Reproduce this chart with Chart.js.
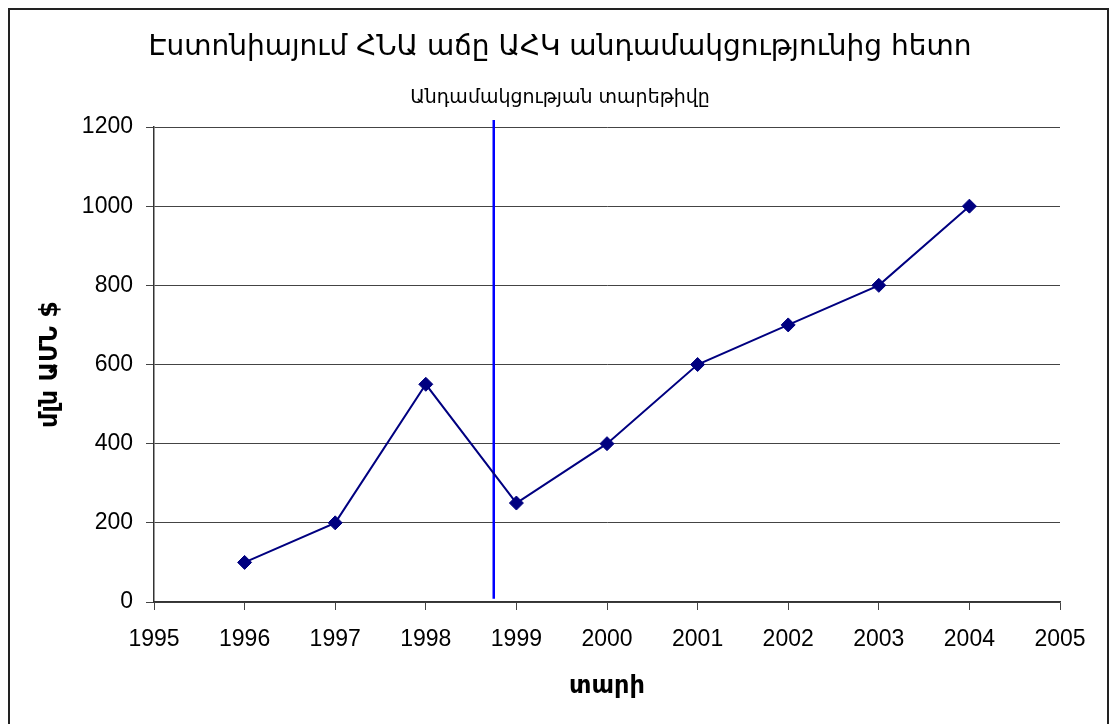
<!DOCTYPE html>
<html>
<head>
<meta charset="utf-8">
<script src="https://cdn.jsdelivr.net/npm/chart.js@4/dist/chart.umd.min.js"></script>
<style>
  html, body { margin: 0; padding: 0; background: #fff; }
  #wrap { width: 1110px; height: 724px; position: relative; }
</style>
</head>
<body>
<div id="wrap"><canvas id="c" width="1110" height="724"></canvas></div>
<script>
// ---- data ----
const years = [1996, 1997, 1998, 1999, 2000, 2001, 2002, 2003, 2004];
const gdpValues = [100, 200, 550, 250, 400, 600, 700, 800, 1000];
const membershipYear = 1998.75;
const membershipLineY = [8, 1218];
const chartTitle = 'Էստոնիայում ՀՆԱ աճը ԱՀԿ անդամակցությունից հետո';
const annotationText = 'Անդամակցության տարեթիվը';
const xAxisTitle = 'տարի';
const yAxisTitle = 'մլն ԱՄՆ $';

const gdpPoints = years.map((y, i) => ({ x: y, y: gdpValues[i] }));
const linePoints = membershipLineY.map(v => ({ x: membershipYear, y: v }));

const armFont = "'DejaVu Sans', 'Noto Sans', sans-serif";
const numFont = "'Liberation Sans', Arial, sans-serif";

const decorPlugin = {
  id: 'decor',
  afterDraw(chart) {
    const ctx = chart.ctx;
    ctx.save();
    ctx.strokeStyle = '#222';
    ctx.lineWidth = 2;
    ctx.strokeRect(9, 9, 1099, 730);
    ctx.fillStyle = '#000';
    ctx.textAlign = 'center';
    ctx.textBaseline = 'middle';
    ctx.font = '28px ' + armFont;
    ctx.fillText(chartTitle, 560, 48);
    ctx.font = '19px ' + armFont;
    ctx.fillText(annotationText, 560, 98);
    ctx.restore();
  }
};

new Chart(document.getElementById('c'), {
  type: 'scatter',
  data: {
    datasets: [
      {
        label: 'ՀՆԱ',
        data: gdpPoints,
        showLine: true,
        borderColor: '#000080',
        backgroundColor: '#000080',
        borderWidth: 2,
        pointStyle: 'rectRot',
        pointRadius: 7,
        pointBorderWidth: 1,
        pointBorderColor: '#000080',
        pointBackgroundColor: '#000080',
        order: 1
      },
      {
        label: annotationText,
        data: linePoints,
        showLine: true,
        borderColor: '#0000FF',
        borderWidth: 2.5,
        pointRadius: 0,
        clip: false,
        order: 2
      }
    ]
  },
  options: {
    responsive: false,
    animation: false,
    events: [],
    layout: { padding: { left: 0, right: 50, top: 127, bottom: 0 } },
    plugins: {
      legend: { display: false },
      tooltip: { enabled: false },
      title: { display: false },
      subtitle: { display: false }
    },
    scales: {
      x: {
        type: 'linear',
        min: 1995,
        max: 2005,
        afterFit(scale) { scale.height = 122; },
        ticks: {
          stepSize: 1,
          color: '#000',
          padding: 16,
          font: { family: numFont, size: 23 },
          callback: v => String(v),
          maxRotation: 0
        },
        grid: {
          drawOnChartArea: false,
          drawTicks: true,
          tickLength: 8,
          tickColor: '#444',
          color: '#444'
        },
        border: { display: true, color: '#333', width: 1.5 },
        title: {
          display: true,
          text: xAxisTitle,
          color: '#000',
          font: { family: armFont, size: 24, weight: 'bold', lineHeight: 1.2 },
          padding: { top: 0, bottom: 23 }
        }
      },
      y: {
        min: 0,
        max: 1200,
        afterFit(scale) { scale.width = 154; },
        ticks: {
          stepSize: 200,
          color: '#000',
          padding: 13,
          font: { family: numFont, size: 23 },
          callback: v => String(v)
        },
        grid: {
          drawTicks: true,
          tickLength: 8,
          color: '#444',
          tickColor: '#444',
          lineWidth: 1
        },
        border: { display: true, color: '#333', width: 1.5 },
        title: {
          display: true,
          text: yAxisTitle,
          color: '#000',
          font: { family: armFont, size: 24, weight: 'bold', lineHeight: 1.2 },
          padding: { top: 36, bottom: 0 }
        }
      }
    }
  },
  plugins: [decorPlugin]
});
</script>
</body>
</html>
